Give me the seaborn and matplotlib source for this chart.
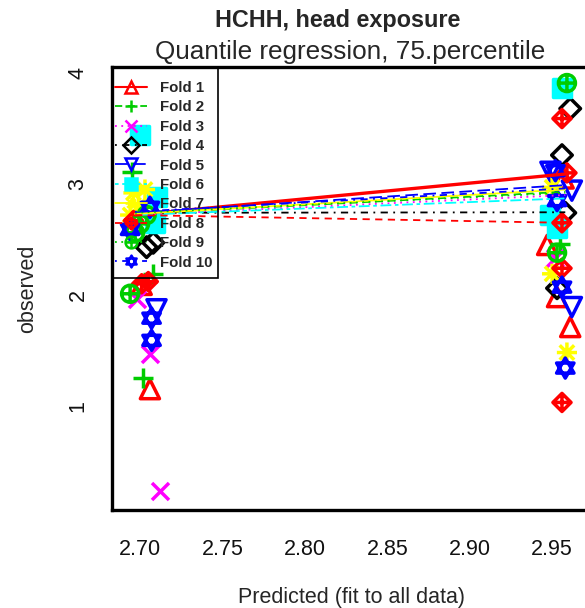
import numpy as np
import pandas as pd
import matplotlib
matplotlib.use("Agg")
import matplotlib.pyplot as plt
from matplotlib.path import Path
from matplotlib.lines import Line2D
from matplotlib.patches import Rectangle
import seaborn as sns

# ---------------- data ----------------
folds = ["Fold 1", "Fold 2", "Fold 3", "Fold 4", "Fold 5",
         "Fold 6", "Fold 7", "Fold 8", "Fold 9", "Fold 10"]
colors = ["#FF0000", "#00CC00", "#FF00FF", "#000000", "#0000FF",
          "#00FFFF", "#FFFF00", "#FF0000", "#00CC00", "#0000FF"]

f1_x = [2.706, 2.701, 2.947, 2.953, 2.961, 2.957]
f1_y = [1.15, 2.09, 2.45, 1.98, 1.71, 3.05]
f2_x = [2.702, 2.708, 2.695, 2.955]
f2_y = [1.25, 2.19, 3.11, 2.46]
f3_x = [2.698, 2.706, 2.712, 2.952]
f3_y = [1.96, 1.47, 0.23, 2.33]
f4_x = [2.704, 2.708, 2.961, 2.956, 2.958, 2.953]
f4_y = [2.43, 2.47, 3.68, 3.26, 2.74, 2.06]
f5_x = [2.710, 2.962, 2.962, 2.949]
f5_y = [1.87, 2.94, 1.89, 3.11]
f6_x = [2.700, 2.710, 2.709, 2.956, 2.953, 2.949]
f6_y = [3.44, 2.88, 2.65, 3.87, 2.60, 2.72]
f7_x = [2.696, 2.699, 2.703, 2.694, 2.950, 2.950, 2.959]
f7_y = [2.92, 2.80, 2.95, 2.72, 2.97, 2.19, 1.48]
f8_x = [2.696, 2.701, 2.705, 2.956, 2.959, 2.956, 2.956, 2.956]
f8_y = [2.67, 2.10, 2.12, 3.59, 3.10, 2.65, 2.24, 1.03]
f9_x = [2.694, 2.704, 2.697, 2.700, 2.959, 2.953]
f9_y = [2.01, 2.72, 2.56, 2.64, 3.91, 2.38]
f10_x = [2.707, 2.707, 2.706, 2.694, 2.952, 2.953, 2.956, 2.958]
f10_y = [1.79, 1.59, 2.79, 2.59, 3.12, 2.85, 2.07, 1.34]

xs = [f1_x, f2_x, f3_x, f4_x, f5_x, f6_x, f7_x, f8_x, f9_x, f10_x]
ys = [f1_y, f2_y, f3_y, f4_y, f5_y, f6_y, f7_y, f8_y, f9_y, f10_y]

line_x = [2.697, 2.958]
line_y_start = [2.72, 2.73, 2.72, 2.74, 2.74, 2.72, 2.73, 2.72, 2.74, 2.75]
line_y_end = [3.09, 2.93, 2.90, 2.745, 2.99, 2.87, 2.95, 2.65, 2.92, 2.96]

x_ticks = [2.70, 2.75, 2.80, 2.85, 2.90, 2.95]
x_tick_labels = ["2.70", "2.75", "2.80", "2.85", "2.90", "2.95"]
y_ticks = [1, 2, 3, 4]
y_tick_labels = ["1", "2", "3", "4"]

# ---------------- markers / styles ----------------
star_david = Path([(0, 1), (-0.866, -0.5), (0.866, -0.5), (0, 1),
                   (0, -1), (-0.866, 0.5), (0.866, 0.5), (0, -1)],
                  [Path.MOVETO, Path.LINETO, Path.LINETO, Path.CLOSEPOLY,
                   Path.MOVETO, Path.LINETO, Path.LINETO, Path.CLOSEPOLY])
circle_plus = Path.make_compound_path(Path.unit_circle(),
                                      Path([(-1, 0), (1, 0)]),
                                      Path([(0, -1), (0, 1)]))
diamond_plus = Path.make_compound_path(
    Path([(0, 1), (1, 0), (0, -1), (-1, 0), (0, 1)],
         [Path.MOVETO, Path.LINETO, Path.LINETO, Path.LINETO, Path.CLOSEPOLY]),
    Path([(-1, 0), (1, 0)]), Path([(0, -1), (0, 1)]))
asterisk = Path.make_compound_path(
    Path([(-1, 0), (1, 0)]), Path([(0, -1), (0, 1)]),
    Path([(-0.72, -0.72), (0.72, 0.72)]), Path([(-0.72, 0.72), (0.72, -0.72)]))

markers = ["^", "+", "x", "D", "v", "s", asterisk, diamond_plus, circle_plus, star_david]
open_marker = [True, False, False, True, True, False, True, True, True, True]
msizes = [190, 220, 150, 110, 190, 150, 210, 170, 150, 210]
linestyles = ["-", (0, (4, 3)), (0, (1, 2.5)), (0, (1, 3, 4, 3)), (0, (7, 3)),
              (0, (2, 2, 6, 2)), "-", (0, (4, 3)), (0, (1, 2.5)), (0, (1, 3, 4, 3))]
linewidths = [2.4, 1.3, 1.3, 1.3, 1.3, 1.3, 1.3, 1.3, 1.3, 1.3]

# ---------------- figure ----------------
sns.set_theme(style="white")
plt.rcParams["font.family"] = ["Liberation Sans", "DejaVu Sans"]

W, H = 585, 608
fig = plt.figure(figsize=(W / 100, H / 100), dpi=100)
ax_l, ax_r, ax_t, ax_b = 112, 590, 67, 510
ax = fig.add_axes([ax_l / W, 1 - ax_b / H, (ax_r - ax_l) / W, (ax_b - ax_t) / H])

for i in range(10):
    df = pd.DataFrame({"pred": xs[i], "obs": ys[i]})
    kw = dict(marker=markers[i], s=msizes[i], linewidth=2.5, zorder=3)
    if open_marker[i]:
        sns.scatterplot(data=df, x="pred", y="obs", ax=ax, color=colors[i],
                        facecolors="none", edgecolors=colors[i], **kw)
    elif markers[i] == "s":
        sns.scatterplot(data=df, x="pred", y="obs", ax=ax, color=colors[i],
                        edgecolors=colors[i], **kw)
    else:
        sns.scatterplot(data=df, x="pred", y="obs", ax=ax, color=colors[i], **kw)

for i in range(10):
    ldf = pd.DataFrame({"pred": line_x, "obs": [line_y_start[i], line_y_end[i]]})
    sns.lineplot(data=ldf, x="pred", y="obs", ax=ax, color=colors[i],
                 linestyle=linestyles[i], linewidth=linewidths[i],
                 sort=False, estimator=None, zorder=4)

ax.set_xlim(2.683, 2.973)
ax.set_ylim(0.06, 4.055)
ax.set_xticks(x_ticks)
ax.set_xticklabels(x_tick_labels)
ax.set_yticks(y_ticks)
ax.set_yticklabels(y_tick_labels, rotation=90, va="center")
ax.tick_params(axis="both", direction="out", length=8, width=1.0,
               color="black", labelsize=15.5, labelcolor="#111111")
ax.tick_params(axis="x", pad=13)
ax.tick_params(axis="y", pad=9)
for sp in ax.spines.values():
    sp.set_linewidth(2.4)
    sp.set_color("black")
ax.grid(False)

ax.set_xlabel("Predicted (fit to all data)", fontsize=15.5, va="center")
ax.xaxis.set_label_coords(0.5, -(598 - ax_b) / (ax_b - ax_t))
ax.set_ylabel("observed", fontsize=15.5, va="center", ha="center")
ax.yaxis.set_label_coords(-(112 - 28) / (ax_r - ax_l), 0.5)

fig.text(338 / W, 1 - 20 / H, "HCHH, head exposure", fontsize=16.8,
         fontweight="bold", ha="center", va="center")
fig.text(350 / W, 1 - 52 / H, "Quantile regression, 75.percentile",
         fontsize=18.8, ha="center", va="center")

# legend box drawn as in the reference (frame hugging the axes corner)
fig.patches.append(Rectangle((112 / W, 1 - 278 / H), (218 - 112) / W, (278 - 67) / H,
                             transform=fig.transFigure, fill=False,
                             edgecolor="black", linewidth=1.2, zorder=6))

handles = []
for i in range(10):
    handles.append(Line2D([], [], color=colors[i], linestyle=linestyles[i],
                          linewidth=linewidths[i] if i else 1.5,
                          marker=markers[i], markersize=8.5,
                          markerfacecolor=colors[i] if markers[i] == "s" else "none",
                          markeredgecolor=colors[i], markeredgewidth=1.8))
leg = ax.legend(handles, folds, loc="upper left",
                bbox_to_anchor=(115 / W, 1 - 81 / H),
                bbox_transform=fig.transFigure,
                borderaxespad=0, frameon=False,
                prop={"weight": "bold", "size": 10.8}, handlelength=2.1,
                handletextpad=0.9, labelspacing=0.36, borderpad=0.0)

fig.savefig("out.png", dpi=100)
